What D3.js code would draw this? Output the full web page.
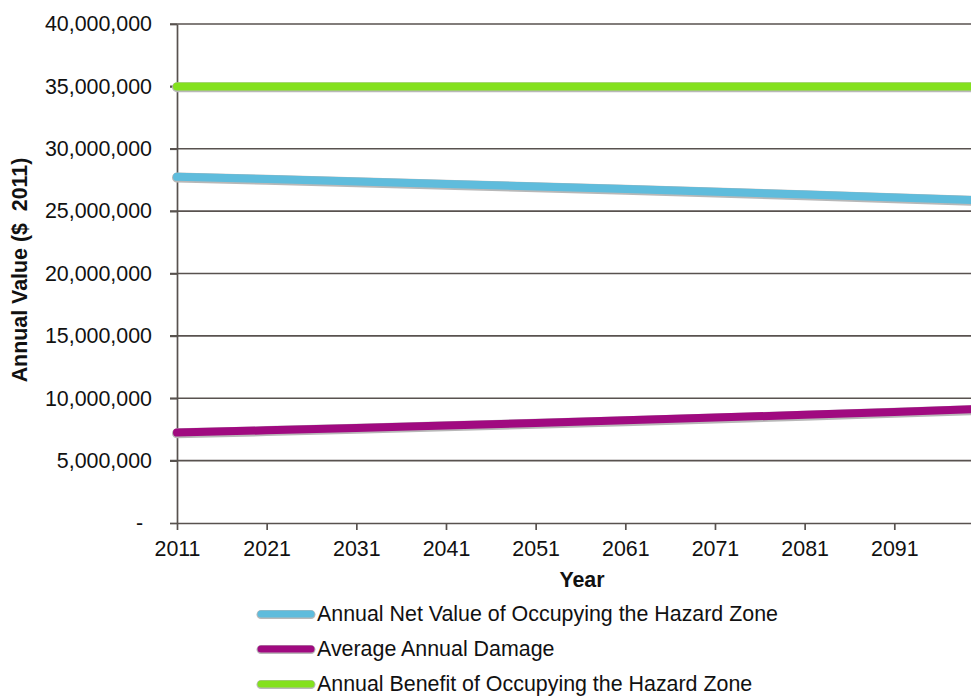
<!DOCTYPE html>
<html>
<head>
<meta charset="utf-8">
<script src="https://cdn.jsdelivr.net/npm/d3@7"></script>
<style>
  html, body { margin: 0; padding: 0; background: #fff; }
  svg { display: block; font-family: "Liberation Sans", Arial, sans-serif; }
</style>
</head>
<body>
<svg id="chart" width="971" height="696"></svg>
<script>
// ---- data ----
const years = [2011, 2021, 2031, 2041, 2051, 2061, 2071, 2081, 2091, 2100];
const netValue = [27750000, 27570000, 27380000, 27180000, 26980000, 26770000, 26550000, 26330000, 26100000, 25880000];
const avgDamage = [7250000, 7430000, 7620000, 7820000, 8020000, 8230000, 8450000, 8670000, 8900000, 9120000];
const annualBenefit = [35000000, 35000000, 35000000, 35000000, 35000000, 35000000, 35000000, 35000000, 35000000, 35000000];
const xTickLabels = [2011, 2021, 2031, 2041, 2051, 2061, 2071, 2081, 2091];
const yTickValues = [0, 5000000, 10000000, 15000000, 20000000, 25000000, 30000000, 35000000, 40000000];
const seriesNames = ["Annual Net Value of Occupying the Hazard Zone", "Average Annual Damage", "Annual Benefit of Occupying the Hazard Zone"];
const seriesColors = ["#5fbcdc", "#a00a80", "#84e11e"];

(function () {
// ---- layout ----
const svg = d3.select("#chart");
const mLeft = 177, mTop = 24, mBottom = 523, mRight = 975;
const x = d3.scaleLinear().domain([2011, 2100]).range([mLeft, mRight]);
const y = d3.scaleLinear().domain([0, 40000000]).range([mBottom, mTop]);
const axisColor = "#58524f";
const fs = 21.4;

// gridlines
svg.append("g").selectAll("line").data(yTickValues.filter(v => v > 0)).join("line")
  .attr("x1", mLeft - 7).attr("x2", 971)
  .attr("y1", d => y(d)).attr("y2", d => y(d))
  .attr("stroke", axisColor).attr("stroke-width", 1.7);

// y axis
const yAxis = d3.axisLeft(y).tickValues(yTickValues).tickSize(7).tickSizeOuter(0)
  .tickFormat(d => d === 0 ? "-" : d3.format(",")(d));
const gy = svg.append("g").attr("transform", `translate(${mLeft},0)`).call(yAxis);
gy.attr("font-size", fs).attr("font-family", "Liberation Sans, Arial, sans-serif");
gy.select(".domain").attr("stroke", axisColor).attr("stroke-width", 1.7);
gy.selectAll(".tick line").attr("stroke", axisColor).attr("stroke-width", 1.7);
gy.selectAll(".tick text").attr("fill", "#111")
  .attr("x", d => d === 0 ? -34 : -25);

// x axis
const xAxis = d3.axisBottom(x).tickValues(xTickLabels).tickSize(7).tickSizeOuter(0).tickFormat(d3.format("d"));
const gx = svg.append("g").attr("transform", `translate(0,${mBottom})`).call(xAxis);
gx.attr("font-size", fs).attr("font-family", "Liberation Sans, Arial, sans-serif");
gx.select(".domain").attr("stroke", axisColor).attr("stroke-width", 1.7);
gx.selectAll(".tick line").attr("stroke", axisColor).attr("stroke-width", 1.7);
gx.selectAll(".tick text").attr("fill", "#111").attr("y", 18);

// axis titles
svg.append("text").attr("x", 582).attr("y", 587).attr("text-anchor", "middle")
  .attr("font-size", fs).attr("font-weight", "bold").attr("fill", "#111").text("Year");
svg.append("text").attr("transform", "translate(27,270) rotate(-90)").attr("text-anchor", "middle")
  .attr("font-size", fs).attr("font-weight", "bold").attr("fill", "#111")
  .attr("xml:space", "preserve").style("white-space", "pre").text("Annual Value ($  2011)");

// lines
const seriesData = [netValue, avgDamage, annualBenefit];
const line = d3.line().x((d, i) => x(years[i])).y(d => y(d));
svg.append("defs").append("clipPath").attr("id", "plotclip")
  .append("rect").attr("x", 0).attr("y", 0).attr("width", 971).attr("height", mBottom);
const lg = svg.append("g").attr("clip-path", "url(#plotclip)");
seriesData.forEach((s, k) => {
  lg.append("path").datum(s).attr("d", line).attr("fill", "none")
    .attr("stroke", "#b8b8b8").attr("stroke-width", 10).attr("stroke-linecap", "round")
    .attr("transform", "translate(0,0.8)");
  lg.append("path").datum(s).attr("d", line).attr("fill", "none")
    .attr("stroke", seriesColors[k]).attr("stroke-width", 8).attr("stroke-linecap", "round");
});

// legend
const legendY = [614, 649, 684];
seriesNames.forEach((name, k) => {
  svg.append("line").attr("x1", 261).attr("x2", 311).attr("y1", legendY[k] + 0.6).attr("y2", legendY[k] + 0.6)
    .attr("stroke", "#b8b8b8").attr("stroke-width", 9).attr("stroke-linecap", "round");
  svg.append("line").attr("x1", 261).attr("x2", 311).attr("y1", legendY[k]).attr("y2", legendY[k])
    .attr("stroke", seriesColors[k]).attr("stroke-width", 7).attr("stroke-linecap", "round");
  svg.append("text").attr("x", 317).attr("y", legendY[k] + 7).attr("font-size", fs).attr("fill", "#111").text(name);
});
})();
</script>
</body>
</html>
